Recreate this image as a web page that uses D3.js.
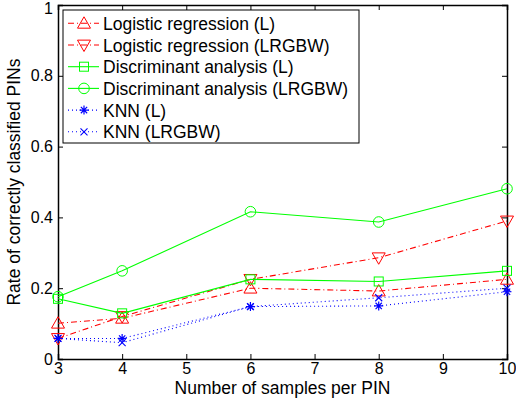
<!DOCTYPE html>
<html>
<head>
<meta charset="utf-8">
<script src="https://cdn.jsdelivr.net/npm/d3@7"></script>
<style>
  body { margin: 0; background: #fff; }
  text { font-family: "Liberation Sans", Arial, sans-serif; fill: #000; }
</style>
</head>
<body>
<svg id="chart" width="516" height="406"></svg>
<script>
// samples per PIN
const samples = [3, 4, 6, 8, 10];

// rate of correctly classified PINs
const lrL      = [0.101, 0.115, 0.200, 0.192, 0.225];
const lrLRGBW  = [0.058, 0.120, 0.225, 0.286, 0.390];
const daL      = [0.170, 0.129, 0.225, 0.219, 0.249];
const daLRGBW  = [0.176, 0.249, 0.416, 0.387, 0.481];
const knnL     = [0.058, 0.058, 0.148, 0.150, 0.190];
const knnLRGBW = [0.058, 0.046, 0.148, 0.173, 0.200];

const xTicks = [3, 4, 5, 6, 7, 8, 9, 10];
const yTicks = [0, 0.2, 0.4, 0.6, 0.8, 1];

const series = [
  { name: 'Logistic regression (L)', values: lrL, color: '#ff0000', dash: '6,3,1,3', marker: 'tri-up' },
  { name: 'Logistic regression (LRGBW)', values: lrLRGBW, color: '#ff0000', dash: '6,3,1,3', marker: 'tri-down' },
  { name: 'Discriminant analysis (L)', values: daL, color: '#00ff00', dash: null, marker: 'square' },
  { name: 'Discriminant analysis (LRGBW)', values: daLRGBW, color: '#00ff00', dash: null, marker: 'circle' },
  { name: 'KNN (L)', values: knnL, color: '#0000ff', dash: '1,3', marker: 'star' },
  { name: 'KNN (LRGBW)', values: knnLRGBW, color: '#0000ff', dash: '1,3', marker: 'cross' }
];

const margin = { top: 5, right: 9, bottom: 47, left: 58 };
const width = 516, height = 406;
const svg = d3.select('#chart');

const x = d3.scaleLinear().domain([3, 10]).range([margin.left, width - margin.right]);
const y = d3.scaleLinear().domain([0, 1]).range([height - margin.bottom, margin.top]);

// draw a marker symbol centered at (0,0)
function drawMarker(g, type, color) {
  const s = 6.5;
  if (type === 'tri-up') {
    g.append('path').attr('d', `M0,${-s}L${s},${s * 0.75}L${-s},${s * 0.75}Z`)
      .attr('fill', 'none').attr('stroke', color).attr('stroke-width', 1);
  } else if (type === 'tri-down') {
    g.append('path').attr('d', `M0,${s}L${s},${-s * 0.75}L${-s},${-s * 0.75}Z`)
      .attr('fill', 'none').attr('stroke', color).attr('stroke-width', 1);
  } else if (type === 'square') {
    g.append('rect').attr('x', -4.5).attr('y', -4.5).attr('width', 9).attr('height', 9)
      .attr('fill', 'none').attr('stroke', color).attr('stroke-width', 1);
  } else if (type === 'circle') {
    g.append('circle').attr('r', 5.3)
      .attr('fill', 'none').attr('stroke', color).attr('stroke-width', 1);
  } else if (type === 'star') {
    const r = 4.5;
    const d = [[-r, 0, r, 0], [0, -r, 0, r], [-r * 0.7, -r * 0.7, r * 0.7, r * 0.7], [-r * 0.7, r * 0.7, r * 0.7, -r * 0.7]]
      .map(p => `M${p[0]},${p[1]}L${p[2]},${p[3]}`).join('');
    g.append('path').attr('d', d).attr('stroke', color).attr('stroke-width', 1.2);
  } else if (type === 'cross') {
    const r = 3.5;
    g.append('path').attr('d', `M${-r},${-r}L${r},${r}M${-r},${r}L${r},${-r}`)
      .attr('stroke', color).attr('stroke-width', 1.1);
  }
}

// axes (inward ticks, MATLAB style box)
const tickLen = 5;
const xAxis = svg.append('g').attr('transform', `translate(0,${y(0)})`)
  .call(d3.axisBottom(x).tickValues(xTicks).tickSize(-tickLen).tickPadding(4).tickFormat(d3.format('d')));
const xAxisTop = svg.append('g').attr('transform', `translate(0,${y(1)})`)
  .call(d3.axisTop(x).tickValues(xTicks).tickSize(-tickLen).tickFormat(''));
const yAxis = svg.append('g').attr('transform', `translate(${x(3)},0)`)
  .call(d3.axisLeft(y).tickValues(yTicks).tickSize(-tickLen).tickPadding(5).tickFormat(d => d === 0 || d === 1 ? d3.format('d')(d) : d3.format('.1f')(d)));
const yAxisRight = svg.append('g').attr('transform', `translate(${x(10)},0)`)
  .call(d3.axisRight(y).tickValues(yTicks).tickSize(-tickLen).tickFormat(''));

[xAxis, xAxisTop, yAxis, yAxisRight].forEach(a => {
  a.select('.domain').attr('stroke', '#000').attr('stroke-width', 1.5);
  a.selectAll('.tick line').attr('stroke', '#000').attr('stroke-width', 1);
  a.selectAll('.tick text').style('font-size', '16px').style('font-family', '"Liberation Sans", Arial, sans-serif');
});
// keep the top "1" inside the picture
yAxis.selectAll('.tick text').filter(d => d === 1).attr('dy', '0.55em');

// lines and markers
const line = d3.line().x((d, i) => x(samples[i])).y(d => y(d));
series.forEach(s => {
  svg.append('path').datum(s.values)
    .attr('d', line)
    .attr('fill', 'none')
    .attr('stroke', s.color)
    .attr('stroke-width', 1.1)
    .attr('stroke-dasharray', s.dash);
  s.values.forEach((v, i) => {
    const g = svg.append('g').attr('transform', `translate(${x(samples[i])},${y(v)})`);
    drawMarker(g, s.marker, s.color);
  });
});

// axis labels
svg.append('text')
  .attr('x', (x(3) + x(10)) / 2).attr('y', 394)
  .attr('text-anchor', 'middle').style('font-size', '17.5px')
  .text('Number of samples per PIN');
svg.append('text')
  .attr('transform', `translate(20,${(y(0) + y(1)) / 2}) rotate(-90)`)
  .attr('text-anchor', 'middle').style('font-size', '17.5px')
  .text('Rate of correctly classified PINs');

// legend
const legend = svg.append('g');
legend.append('rect')
  .attr('x', 63).attr('y', 10).attr('width', 296).attr('height', 133)
  .attr('fill', '#fff').attr('stroke', '#000').attr('stroke-width', 1);
series.forEach((s, i) => {
  const ly = 23.3 + i * 21.7;
  legend.append('line')
    .attr('x1', 68).attr('x2', 99).attr('y1', ly).attr('y2', ly)
    .attr('stroke', s.color).attr('stroke-width', 1.1)
    .attr('stroke-dasharray', s.dash);
  const g = legend.append('g').attr('transform', `translate(84,${ly})`);
  drawMarker(g, s.marker, s.color);
  legend.append('text')
    .attr('x', 103).attr('y', ly + 6.5)
    .style('font-size', '17.5px')
    .text(s.name);
});
</script>
</body>
</html>
